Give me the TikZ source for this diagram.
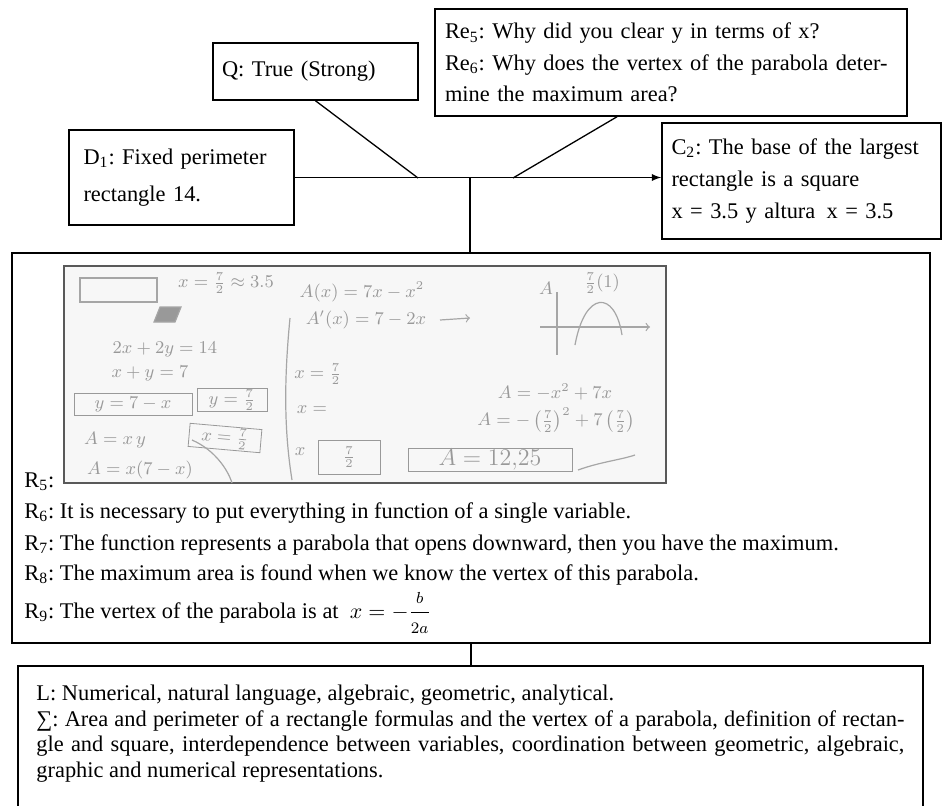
\documentclass[tikz,border=0pt]{standalone}
\usepackage{amsmath}
\usepackage{fontspec}
\setmainfont{Liberation Serif}
\frenchspacing

\tikzset{
  box/.style={draw, line width=0.75pt, align=left, inner ysep=2pt,
    font=\fontsize{11.2}{15.5}\selectfont},
  link/.style={line width=0.65pt},
  rline/.style={anchor=base west, inner sep=0pt, font=\fontsize{11.2}{13}\selectfont},
  photo/.style={draw=black!65, line width=1.4pt, fill=black!3},
  pen/.style={black!35, line width=0.6pt},
  hand/.style={black!40, inner sep=0.5pt, font=\small},
}

\begin{document}
\begin{tikzpicture}[x=0.5pt, y=-0.5pt]
  \useasboundingbox (0,0) rectangle (943,805);

  % Top boxes
  \node[box, minimum width=102.5pt, minimum height=28.5pt, text width=93.5pt, inner xsep=4.5pt]
    (q) at (315.5,71.5) {Q: True (Strong)};
  \node[box, minimum width=236pt, minimum height=53.5pt, text width=226pt, inner xsep=5pt,
    font=\fontsize{11.2}{15.75}\selectfont] (re) at (671,62.5)
    {Re\textsubscript{5}: Why did you clear y in terms of x?\\
     Re\textsubscript{6}: Why does the vertex of the parabola deter-\\
     mine the maximum area?};
  \node[box, minimum width=112.5pt, minimum height=47.5pt, text width=98pt, inner xsep=7.25pt,
    font=\fontsize{11.2}{18.5}\selectfont] (d1) at (181.5,177.5)
    {\makebox[98pt][s]{D\textsubscript{1}: Fixed perimeter}\\rectangle 14.};
  \node[box, minimum width=139.5pt, minimum height=58pt, text width=130pt, inner xsep=4.75pt,
    font=\fontsize{11.2}{16}\selectfont] (c2) at (801.5,181)
    {C\textsubscript{2}: The base of the largest\\rectangle is a square\\
     x = 3.5 y altura\enspace x = 3.5};

  % Junctions on the main line
  \coordinate (jq) at (418,178);
  \coordinate (jm) at (470,178);
  \coordinate (jr) at (513,178);

  \draw[link, -latex] (d1.east) -- (d1.east -| c2.west);
  \draw[link] (q.south) -- (jq);
  \draw[link] ([xshift=-27pt]re.south) -- (jr);

  % Warrant box with the student's work
  \node[box, minimum width=459pt, minimum height=195pt] (main) at (471,448) {};
  \draw[link] (jm) -- (jm |- main.north);

  \draw[photo] (64,266) rectangle (666,483);
  % handwriting (faint)
  \draw[pen] (80,278) rectangle (157,302);
  \draw[pen, fill=black!40] (154,322) -- (160,307) -- (181,307) -- (175,322) -- cycle;
  \node[hand] (wx) at (226,283) {$x=\frac{7}{2}\approx 3.5$};
  \node[hand] (wper) at (165,349) {$2x+2y=14$};
  \node[hand] (wsum) at (150,373) {$x+y=7$};
  \node[hand, draw, minimum width=59pt, minimum height=11pt] (wy) at (133,404) {$y=7-x$};
  \node[hand, draw, minimum width=35pt, minimum height=11pt] (wyv) at (232,400) {$y=\frac{7}{2}$};
  \node[hand, draw, minimum width=36pt, minimum height=11pt, rotate=-5] (wxv) at (225,438) {$x=\frac{7}{2}$};
  \node[hand] (wxy) at (115,440) {$A=x\,y$};
  \node[hand] (wax) at (140,470) {$A=x(7-x)$};
  \draw[pen] (192,440) .. controls (215,450) and (228,470) .. (232,483);
  \draw[pen] (290,318) .. controls (284,380) and (284,430) .. (292,480);
  \node[hand] (wfun) at (362,292) {$A(x)=7x-x^2$};
  \node[hand] (wder) at (366,320) {$A'(x)=7-2x$};
  \node[hand] (wroot) at (318,374) {$x=\frac{7}{2}$};
  \node[hand] (wxe) at (312,410) {$x=$};
  \node[hand] (wxx) at (300,452) {$x$};
  \node[hand, draw, minimum width=31pt, minimum height=17pt] (whalf) at (349,457) {$\frac{7}{2}$};
  \draw[pen, ->] (440,320) -- (470,318);
  \draw[pen] (557,292) -- (557,355);
  \draw[pen, ->] (540,327) -- (650,327);
  \draw[pen] (575,345) .. controls (585,290) and (615,290) .. (622,335);
  \node[hand] (waxis) at (546,288) {$A$};
  \node[hand] (wtop) at (602,283) {$\frac{7}{2}(1)$};
  \node[hand] (wpar) at (555,392) {$A=-x^2+7x$};
  \node[hand] (wsub) at (556,420) {$A=-\left(\frac{7}{2}\right)^2+7\left(\frac{7}{2}\right)$};
  \node[hand, draw, font=\large, minimum width=82pt] (wres) at (490,460) {$A=12{,}25$};
  \draw[pen] (578,470) .. controls (600,462) and (620,460) .. (635,455);

  % Reasons
  \node[rline] (r5) at (24,487) {R\textsubscript{5}:};
  \node[rline] (r6) at (24,518) {R\textsubscript{6}: It is necessary to put everything in function of a single variable.};
  \node[rline] (r7) at (24,550) {R\textsubscript{7}: The function represents a parabola that opens downward, then you have the maximum.};
  \node[rline] (r8) at (24,580) {R\textsubscript{8}: The maximum area is found when we know the vertex of this parabola.};
  \node[rline] (r9) at (24,618) {R\textsubscript{9}: The vertex of the parabola is at\enspace $x=-\dfrac{\scriptstyle b}{\scriptstyle 2a}$};

  % Languages and system
  \node[box, minimum width=452.5pt, minimum height=100pt, anchor=north] (legend) at (470.5,665) {};
  \draw[link] (main.south) -- (main.south |- legend.north);
  \node[anchor=north west, text width=434pt, align=justify, inner sep=0pt,
    font=\fontsize{11.2}{12.75}\selectfont] (lists) at (36,685)
    {L: Numerical, natural language, algebraic, geometric, analytical.\\
     ∑: Area and perimeter of a rectangle formulas and the vertex of a parabola, definition of rectan-\linebreak
     gle and square, interdependence between variables, coordination between geometric, algebraic,\linebreak
     graphic and numerical representations.};
\end{tikzpicture}
\end{document}
